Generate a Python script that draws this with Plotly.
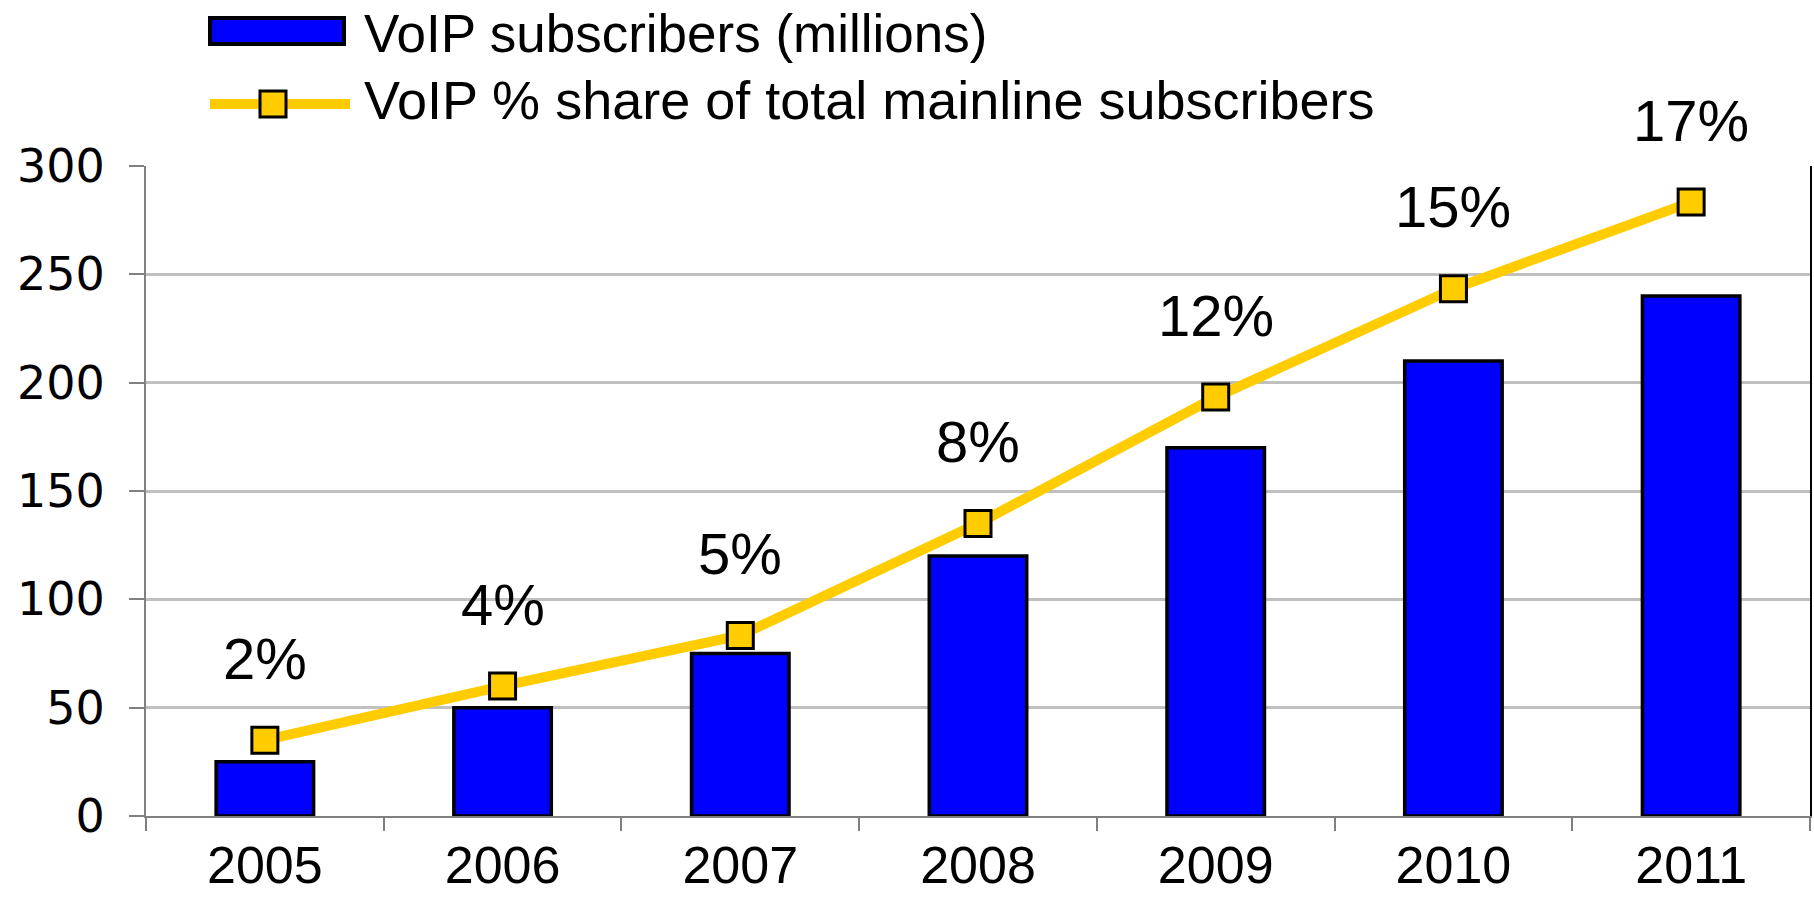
import plotly.graph_objects as go

years = ["2005", "2006", "2007", "2008", "2009", "2010", "2011"]
subscribers = [25, 50, 75, 120, 170, 210, 240]
share_pct = [2.1, 3.6, 5.0, 8.1, 11.6, 14.6, 17.0]
share_labels = ["2%", "4%", "5%", "8%", "12%", "15%", "17%"]
y_ticks = [0, 50, 100, 150, 200, 250, 300]

W, H = 1814, 899
L, R, T, B = 146, 4, 166, 83
PW, PH = W - L - R, H - T - B

def px(x):
    return (x - L) / PW

def py(y):
    return (H - B - y) / PH

FONT = "Liberation Sans, Arial, sans-serif"
BLUE = "#0000FF"
GOLD = "#FFCC00"

fig = go.Figure()
fig.add_trace(go.Bar(
    x=years, y=subscribers, width=0.41,
    marker=dict(color=BLUE, line=dict(color="black", width=3.5)),
    name="VoIP subscribers (millions)", showlegend=False,
))
fig.add_trace(go.Scatter(
    x=years, y=share_pct, yaxis="y2", mode="lines+markers",
    line=dict(color=GOLD, width=10),
    marker=dict(symbol="square", size=26, color=GOLD, line=dict(color="black", width=3)),
    name="VoIP % share of total mainline subscribers", showlegend=False,
))

annotations = []
for i, (v, lab) in enumerate(zip(share_pct, share_labels)):
    annotations.append(dict(x=i, xref="x", y=v, yref="y2", text=lab, showarrow=False,
                            yshift=82, yanchor="middle",
                            font=dict(family=FONT, size=58, color="black")))

# custom legend
shapes = [
    dict(type="rect", xref="paper", yref="paper", x0=px(210), x1=px(344), y0=py(44), y1=py(18),
         fillcolor=BLUE, line=dict(color="black", width=4), layer="above"),
    dict(type="line", xref="paper", yref="paper", x0=px(210), x1=px(350), y0=py(104), y1=py(104),
         line=dict(color=GOLD, width=10), layer="above"),
    dict(type="rect", xref="paper", yref="paper", x0=px(260), x1=px(286), y0=py(117), y1=py(91),
         fillcolor=GOLD, line=dict(color="black", width=3), layer="above"),
]
annotations.append(dict(xref="paper", yref="paper", x=px(362), y=py(34), xanchor="left", yanchor="middle",
                        text="VoIP subscribers (millions)", showarrow=False,
                        font=dict(family=FONT, size=53, color="black")))
annotations.append(dict(xref="paper", yref="paper", x=px(362), y=py(100), xanchor="left", yanchor="middle",
                        text="VoIP % share of total mainline subscribers", showarrow=False,
                        font=dict(family=FONT, size=54, color="black")))

fig.update_layout(
    width=W, height=H,
    margin=dict(l=L, r=R, t=T, b=B),
    paper_bgcolor="white", plot_bgcolor="white",
    showlegend=False,
    bargap=0.59,
    xaxis=dict(type="category", tickson="boundaries", ticks="outside", ticklen=13,
               tickcolor="#808080", tickwidth=1.5,
               showline=True, linecolor="#808080", linewidth=2,
               showgrid=False, tickfont=dict(family=FONT, size=52, color="black"),
               ticklabelstandoff=3, range=[-0.5, 6.5], automargin=False),
    yaxis=dict(range=[0, 300], tickvals=y_ticks, ticks="outside", ticklen=15,
               tickcolor="#808080", tickwidth=1.5,
               showline=True, linecolor="#808080", linewidth=2,
               showgrid=True, gridcolor="#C0C0C0", gridwidth=3,
               zeroline=False, automargin=False, ticklabelstandoff=15,
               tickfont=dict(family="DejaVu Sans, sans-serif", size=46, color="black")),
    yaxis2=dict(range=[0, 18], overlaying="y", side="right", showticklabels=False,
                showgrid=False, zeroline=False, showline=True, linecolor="black", linewidth=2,
                ticks="", automargin=False),
    shapes=shapes,
    annotations=annotations,
)

fig.write_html("out.html")
